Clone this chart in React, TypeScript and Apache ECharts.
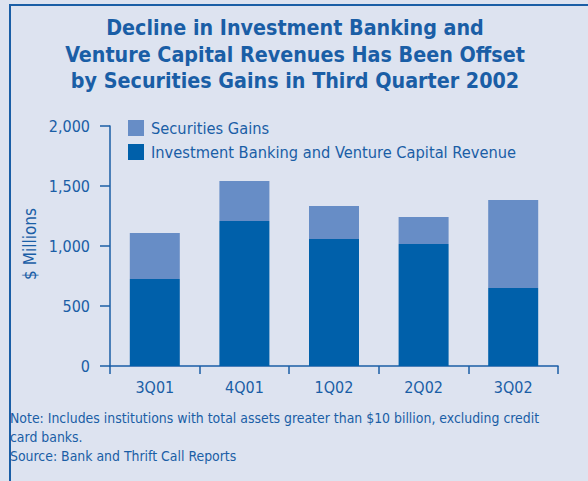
import React, { useEffect, useRef } from "react";
import * as echarts from "echarts";

const categories = ["3Q01", "4Q01", "1Q02", "2Q02", "3Q02"];
const ibvcRevenue = [725, 1208, 1058, 1017, 650];
const securitiesGains = [383, 334, 275, 225, 733];
const seriesNames = ["Investment Banking and Venture Capital Revenue", "Securities Gains"];
const titleLines = [
  "Decline in Investment Banking and",
  "Venture Capital Revenues Has Been Offset",
  "by Securities Gains in Third Quarter 2002",
];
const noteLines = [
  "Note: Includes institutions with total assets greater than $10 billion, excluding credit",
  "card banks.",
  "Source: Bank and Thrift Call Reports",
];
const yAxisName = "$ Millions";

const FONT = '"Liberation Sans Narrow", "DejaVu Sans Condensed", "Arial Narrow", sans-serif';
const TEXT = "#1a5ea6";
const BG = "#dde3f0";
const DARK = "#0060aa";
const LIGHT = "#678dc6";

export default function App() {
  const ref = useRef<HTMLDivElement>(null);
  useEffect(() => {
    if (!ref.current) return;
    const chart = echarts.init(ref.current, null, { renderer: "svg" });
    chart.setOption({
      animation: false,
      backgroundColor: BG,
      textStyle: { fontFamily: FONT },
      grid: { left: 110, right: 30, top: 126, bottom: 115, containLabel: false },
      legend: {
        orient: "vertical",
        left: 123,
        top: 115,
        itemWidth: 16,
        itemHeight: 16,
        itemGap: 8,
        icon: "rect",
        data: [seriesNames[1], seriesNames[0]],
        textStyle: { fontFamily: FONT, fontSize: 16.3, color: TEXT, padding: [0, 0, 0, 2] },
        selectedMode: false,
      },
      xAxis: {
        type: "category",
        data: categories,
        boundaryGap: true,
        axisLine: { lineStyle: { color: TEXT, width: 1.5 } },
        axisTick: { show: true, length: 8, lineStyle: { color: TEXT, width: 1.5 } },
        axisLabel: { color: TEXT, fontFamily: FONT, fontSize: 16, margin: 13 },
      },
      yAxis: {
        type: "value",
        min: 0,
        max: 2000,
        interval: 500,
        splitLine: { show: false },
        axisLine: { show: true, lineStyle: { color: TEXT, width: 1.5 } },
        axisTick: { show: true, length: 10, lineStyle: { color: TEXT, width: 1.5 } },
        axisLabel: {
          color: TEXT,
          fontFamily: FONT,
          fontSize: 16,
          margin: 20,
          formatter: (v: number) => v.toLocaleString("en-US"),
        },
      },
      series: [
        {
          name: seriesNames[0],
          type: "bar",
          stack: "total",
          barWidth: 50,
          data: ibvcRevenue,
          itemStyle: { color: DARK },
        },
        {
          name: seriesNames[1],
          type: "bar",
          stack: "total",
          barWidth: 50,
          data: securitiesGains,
          itemStyle: { color: LIGHT },
        },
      ],
      graphic: [
        { type: "line", shape: { x1: 9, y1: 5, x2: 588, y2: 5 }, style: { stroke: TEXT, lineWidth: 2 } },
        { type: "line", shape: { x1: 10, y1: 4, x2: 10, y2: 481 }, style: { stroke: TEXT, lineWidth: 2 } },
        {
          type: "text",
          x: 295,
          y: 54,
          style: {
            text: titleLines.join("\n"),
            fontFamily: FONT,
            fontSize: 21.3,
            fontWeight: "bold",
            lineHeight: 26.5,
            fill: TEXT,
            align: "center",
            verticalAlign: "middle",
          },
        },
        {
          type: "text",
          x: 30,
          y: 244,
          rotation: Math.PI / 2,
          style: {
            text: yAxisName,
            fontFamily: FONT,
            fontSize: 17,
            fill: TEXT,
            align: "center",
            verticalAlign: "middle",
          },
        },
        {
          type: "text",
          x: 10,
          y: 437,
          style: {
            text: noteLines.join("\n"),
            fontFamily: FONT,
            fontSize: 13.9,
            lineHeight: 19,
            fill: TEXT,
            align: "left",
            verticalAlign: "middle",
          },
        },
      ],
    });
    return () => chart.dispose();
  }, []);
  return (
    <div
      ref={ref}
      style={{ position: "absolute", left: 0, top: 0, width: 588, height: 481 }}
    />
  );
}
